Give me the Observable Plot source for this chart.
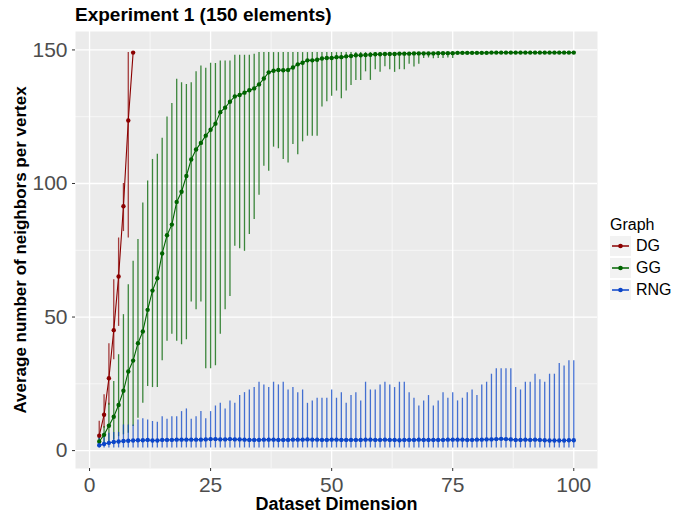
<!DOCTYPE html>
<html>
<head>
<meta charset="utf-8">
<script src="https://cdn.jsdelivr.net/npm/d3@7"></script>
<script src="https://cdn.jsdelivr.net/npm/@observablehq/plot@0.6"></script>
<style>
  html, body { margin: 0; padding: 0; background: #fff; }
  body { width: 678px; height: 515px; position: relative; overflow: hidden; font-family: "Liberation Sans", Arial, Helvetica, sans-serif; }
  #title { height: 28px; box-sizing: border-box; padding-top: 2px; line-height: 26px; padding-left: 75px; font-size: 19px; font-weight: bold; color: #000; }
  #legend { position: absolute; left: 610px; top: 214px; font-size: 16px; color: #000; }
  #legend .ttl { height: 21px; line-height: 21px; }
  #legend .row { height: 22px; display: flex; align-items: center; }
  #legend .row svg { margin-right: 5px; }
</style>
</head>
<body>
<div id="title">Experiment 1 (150 elements)</div>
<div id="chart"></div>
<div id="legend"></div>
<script>
// ---- data ----
const graphs = ["DG", "GG", "RNG"];
const graphColors = ["#8b0000", "#006400", "#0b45c8"];

const dgDims = [2, 3, 4, 5, 6, 7, 8, 9];
const dgMean = [5.6, 13.4, 27.1, 45.1, 65.2, 91.5, 123.6, 149];
const dgLow  = [4, 8.4, 17, 34, 46.5, 82, 79.6, 149];
const dgHigh = [11, 20.9, 40, 64, 79.6, 100, 149, 149];

const dims = [2, 3, 4, 5, 6, 7, 8, 9, 10,
  11, 12, 13, 14, 15, 16, 17, 18, 19, 20,
  21, 22, 23, 24, 25, 26, 27, 28, 29, 30,
  31, 32, 33, 34, 35, 36, 37, 38, 39, 40,
  41, 42, 43, 44, 45, 46, 47, 48, 49, 50,
  51, 52, 53, 54, 55, 56, 57, 58, 59, 60,
  61, 62, 63, 64, 65, 66, 67, 68, 69, 70,
  71, 72, 73, 74, 75, 76, 77, 78, 79, 80,
  81, 82, 83, 84, 85, 86, 87, 88, 89, 90,
  91, 92, 93, 94, 95, 96, 97, 98, 99, 100];

const ggMean = [3.4, 5.9, 9.3, 12.7, 17.1, 22.4, 29.6, 33.7, 40.2,
  44.6, 52.7, 59.9, 64.5, 73.8, 80.6, 84.6, 93.1, 96.9, 102.8,
  109, 112.7, 115.2, 117.9, 120.1, 122.4, 126.7, 128.4, 130.6, 132.6,
  133.1, 134, 134.9, 135.6, 137.1, 139.3, 141.6, 142.2, 142.5, 142.4,
  142.5, 143.4, 144.6, 145.2, 146.1, 146.1, 146.3, 146.8, 147, 147,
  147.3, 147.3, 147.6, 147.7, 148, 148, 148.1, 148.2, 148.4, 148.4,
  148.5, 148.5, 148.5, 148.6, 148.6, 148.6, 148.7, 148.7, 148.7, 148.7,
  148.7, 148.8, 148.8, 148.8, 148.8, 148.9, 148.9, 148.9, 148.9, 148.9,
  148.9, 148.9, 149, 149, 149, 149, 149, 149, 149, 149,
  149, 149, 149, 149, 149, 149, 149, 149, 149, 149];
const ggLow = [2, 2, 2.1, 4, 5.2, 5.9, 6.5, 9, 12.1,
  17.7, 24, 23.6, 23.6, 33.6, 40.9, 43.6, 40.9, 39.6, 41.5,
  55.6, 52.7, 55.6, 30.6, 30.6, 31.8, 43.6, 52.7, 57.7, 76.5,
  75.6, 74.6, 80.9, 86.5, 95.6, 106.5, 104.6, 113.6, 113, 109,
  107.7, 114.6, 110.8, 115.6, 117.7, 117.7, 117.7, 128.6, 130.6, 132.7,
  134.6, 131.7, 134.6, 136.7, 138.6, 138.6, 141.8, 138.6, 142.6, 141.6,
  143.7, 142.6, 141.6, 142.6, 142.6, 144.6, 143.6, 144.6, 146.8, 147,
  146.7, 146.8, 146.8, 147, 146.8, 148.3, 148.4, 148.4, 148.5, 148.5,
  148.6, 148.6, 148.7, 148.7, 148.7, 148.8, 148.8, 148.8, 148.8, 148.9,
  148.9, 148.9, 148.9, 148.9, 149, 149, 149, 149, 149, 149];
const ggHigh = [5, 9, 17.7, 25.9, 35.9, 50.9, 62.1, 70.9, 79,
  92.7, 100.9, 109, 110.9, 116.9, 124.9, 129.9, 139, 137.7, 137.1,
  137.7, 141.8, 144, 143.1, 145, 144.9, 145.9, 145.9, 145.9, 148,
  148, 148, 148, 148.4, 149, 149, 149, 149, 149, 149,
  149, 149, 149, 149, 149, 149, 149, 149, 149, 149,
  149, 149, 149, 149, 149, 149, 149, 149, 149, 149,
  149, 149, 149, 149, 149, 149, 149, 149, 149, 149,
  149, 149, 149, 149, 149, 149, 149, 149, 149, 149,
  149, 149, 149, 149, 149, 149, 149, 149, 149, 149,
  149, 149, 149, 149, 149, 149, 149, 149, 149, 149];

const rngMean = [2.0, 2.5, 2.9, 3.2, 3.4, 3.6, 3.7, 3.8, 3.9,
  3.9, 4.0, 3.8, 3.8, 4.0, 4.0, 4.0, 4.1, 4.1, 4.1,
  4.1, 4.1, 4.1, 4.2, 4.3, 4.3, 4.2, 4.2, 4.3, 4.2,
  4.2, 4.1, 4.0, 4.0, 4.0, 4.1, 4.1, 4.1, 4.0, 4.0,
  4.0, 4.1, 4.1, 4.1, 4.2, 4.1, 4.1, 4.0, 4.0, 4.1,
  4.1, 4.0, 4.0, 4.0, 4.0, 4.0, 4.1, 4.1, 4.0, 4.0,
  4.1, 4.0, 4.0, 3.9, 4.0, 4.0, 4.0, 4.1, 4.0, 4.0,
  4.0, 4.0, 4.0, 4.1, 4.1, 4.1, 4.1, 4.0, 4.0, 4.1,
  4.1, 4.2, 4.2, 4.3, 4.4, 4.3, 4.2, 4.0, 4.0, 4.1,
  4.0, 4.1, 4.0, 3.9, 3.8, 3.8, 3.8, 3.8, 3.9, 3.9];
const rngLow = [1, 1, 1, 1, 1, 1, 1, 1, 1,
  1, 1, 1, 1, 1, 1, 1, 1, 1, 1,
  1, 1, 1, 1, 1, 1, 1, 1, 1, 1,
  1, 1, 1, 1, 1, 1, 1, 1, 1, 1,
  1, 1, 1, 1, 1, 1, 1, 1, 1, 1,
  1, 1, 1, 1, 1, 1, 1, 1, 1, 1,
  1, 1, 1, 1, 1, 1, 1, 1, 1, 1,
  1, 1, 1, 1, 1, 1, 1, 1, 1, 1,
  1, 1, 1, 1, 1, 1, 1, 1, 1, 1,
  1, 1, 1, 1, 1, 1, 1, 1, 1, 1];
const rngHigh = [5.2, 6.5, 6.5, 6.8, 6.8, 9.6, 9.6, 9.6, 11.5,
  11.9, 11.5, 10.9, 10.6, 12.7, 11.7, 12.7, 12.7, 14.6, 15.6,
  11.7, 12.7, 14.6, 11.9, 14.6, 16.7, 17.7, 15.6, 18.6, 17.7,
  20.6, 21.7, 22.7, 23.6, 25.6, 24.6, 23.6, 25.6, 24.6, 25.6,
  22.7, 23.6, 21.7, 22.7, 17.7, 18.6, 19.6, 19.6, 19.6, 22.7,
  19.6, 21.7, 17.7, 20.6, 21.7, 18.6, 25.6, 22.7, 22.7, 24.6,
  25.6, 24.6, 23.6, 25.6, 25.6, 21.7, 19.6, 16.7, 18.6, 20.6,
  16.7, 18.6, 21.7, 19.6, 21.7, 18.6, 19.6, 21.7, 22.7, 20.6,
  24.6, 25.6, 28.6, 30.6, 30.6, 30.6, 30.6, 23.6, 22.7, 25.6,
  25.6, 28.6, 26.5, 25.6, 28.6, 28.6, 32.6, 31.7, 33.6, 33.6];

const xTicks = [0, 25, 50, 75, 100];
const xMinor = [12.5, 37.5, 62.5, 87.5];
const yTicks = [0, 50, 100, 150];
const yMinor = [25, 75, 125];

// ---- table built from the arrays ----
const rows = [];
dgDims.forEach((d, i) => rows.push({graph: "DG", dim: d, mean: dgMean[i], low: dgLow[i], high: dgHigh[i]}));
dims.forEach((d, i) => rows.push({graph: "GG", dim: d, mean: ggMean[i], low: ggLow[i], high: ggHigh[i]}));
dims.forEach((d, i) => rows.push({graph: "RNG", dim: d, mean: rngMean[i], low: rngLow[i], high: rngHigh[i]}));

const font = '"Liberation Sans", Arial, Helvetica, sans-serif';

const chart = Plot.plot({
  width: 678,
  height: 487,
  marginLeft: 75,
  marginRight: 81,
  marginTop: 3,
  marginBottom: 47,
  style: {fontFamily: font, background: "transparent", overflow: "visible"},
  x: {domain: [-2.9, 104.9], label: null},
  y: {domain: [-6.7, 156.9], label: null},
  color: {domain: graphs, range: graphColors},
  marks: [
    Plot.frame({fill: "#ebebeb", stroke: null}),
    Plot.gridX(xMinor, {stroke: "#ffffff", strokeOpacity: 1, strokeWidth: 0.6}),
    Plot.gridY(yMinor, {stroke: "#ffffff", strokeOpacity: 1, strokeWidth: 0.6}),
    Plot.gridX(xTicks, {stroke: "#ffffff", strokeOpacity: 1, strokeWidth: 1.3}),
    Plot.gridY(yTicks, {stroke: "#ffffff", strokeOpacity: 1, strokeWidth: 1.3}),
    Plot.ruleX(rows, {x: "dim", y1: "low", y2: "high", stroke: "graph", strokeWidth: 1.3, strokeOpacity: 0.75}),
    Plot.line(rows, {x: "dim", y: "mean", z: "graph", stroke: "graph", strokeWidth: 1.1}),
    Plot.dot(rows, {x: "dim", y: "mean", fill: "graph", r: 2.2, stroke: null}),
    Plot.axisX(xTicks, {tickSize: 3, tickPadding: 6, fontSize: 21, color: "#4d4d4d", stroke: "#333333", label: null}),
    Plot.axisY(yTicks, {tickSize: 3, tickPadding: 5, fontSize: 21, color: "#4d4d4d", stroke: "#333333", label: null}),
    Plot.text(["Dataset Dimension"], {text: d => d, frameAnchor: "bottom", textAnchor: "middle", lineAnchor: "middle", dy: 36, fontSize: 18, fontWeight: "bold", fill: "#000"}),
    Plot.text(["Average number of neighbors per vertex"], {text: d => d, frameAnchor: "left", textAnchor: "middle", lineAnchor: "middle", rotate: -90, dx: -55, fontSize: 17, fontWeight: "bold", fill: "#000"})
  ]
});
document.getElementById("chart").appendChild(chart);

// ---- legend ----
const legend = document.getElementById("legend");
const ttl = document.createElement("div");
ttl.className = "ttl";
ttl.textContent = "Graph";
legend.appendChild(ttl);
graphs.forEach((g, i) => {
  const row = document.createElement("div");
  row.className = "row";
  const c = graphColors[i];
  row.innerHTML = `<svg width="21" height="20"><rect x="0" y="0" width="21" height="20" fill="#f2f2f2"/>` +
    `<line x1="2" x2="19" y1="10" y2="10" stroke="${c}" stroke-width="1.5"/>` +
    `<circle cx="10.5" cy="10" r="2.3" fill="${c}"/></svg><span>${g}</span>`;
  legend.appendChild(row);
});
</script>
</body>
</html>
